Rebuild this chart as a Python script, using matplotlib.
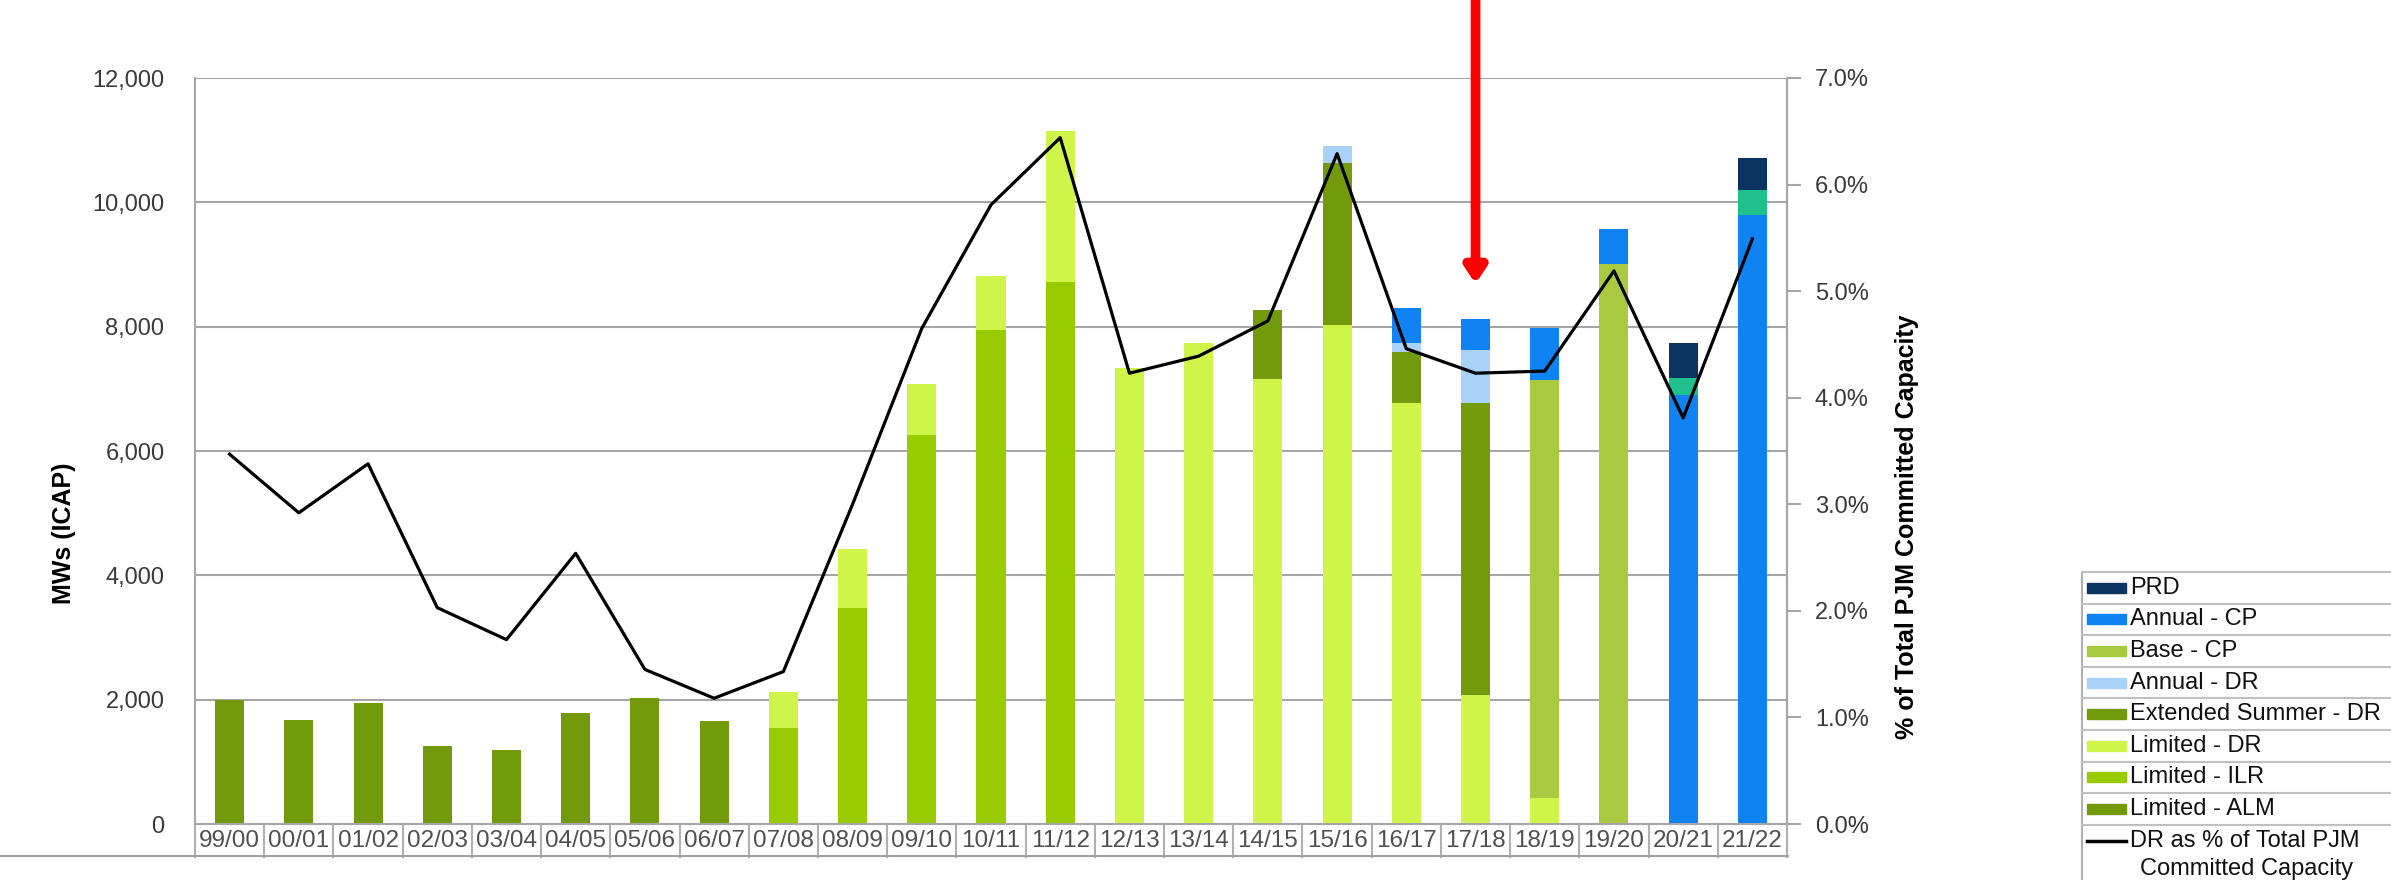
import numpy as np
import matplotlib.pyplot as plt
from matplotlib.patches import Rectangle
from matplotlib.lines import Line2D
import matplotlib.transforms as mtransforms

W, H = 2391, 880

years = ["99/00", "00/01", "01/02", "02/03", "03/04", "04/05", "05/06", "06/07",
         "07/08", "08/09", "09/10", "10/11", "11/12", "12/13", "13/14", "14/15",
         "15/16", "16/17", "17/18", "18/19", "19/20", "20/21", "21/22"]

# stacked MW segments, bottom to top
limited_alm = [2000, 1680, 1940, 1260, 1190, 1780, 2020, 1650, 0, 0, 0, 0,
               0, 0, 0, 0, 0, 0, 0, 0, 0, 0, 0]
limited_ilr = [0, 0, 0, 0, 0, 0, 0, 0, 1550, 3480, 6250, 7940,
               8720, 0, 0, 0, 0, 0, 0, 0, 0, 0, 0]
limited_dr = [0, 0, 0, 0, 0, 0, 0, 0, 570, 940, 820, 880,
              2430, 7330, 7740, 7160, 8030, 6780, 2080, 415, 0, 0, 0]
ext_summer_dr = [0, 0, 0, 0, 0, 0, 0, 0, 0, 0, 0, 0,
                 0, 0, 0, 1110, 2610, 810, 4700, 0, 0, 0, 0]
annual_dr = [0, 0, 0, 0, 0, 0, 0, 0, 0, 0, 0, 0,
             0, 0, 0, 0, 270, 150, 850, 0, 0, 0, 0]
base_cp = [0, 0, 0, 0, 0, 0, 0, 0, 0, 0, 0, 0,
           0, 0, 0, 0, 0, 0, 0, 6720, 9000, 0, 0]
annual_cp = [0, 0, 0, 0, 0, 0, 0, 0, 0, 0, 0, 0,
             0, 0, 0, 0, 0, 560, 490, 840, 570, 6900, 9790]
teal_seg = [0, 0, 0, 0, 0, 0, 0, 0, 0, 0, 0, 0,
            0, 0, 0, 0, 0, 0, 0, 0, 0, 270, 410]
prd = [0, 0, 0, 0, 0, 0, 0, 0, 0, 0, 0, 0,
       0, 0, 0, 0, 0, 0, 0, 0, 0, 560, 510]

# DR as % of total committed capacity
dr_pct = [3.47, 2.92, 3.38, 2.03, 1.73, 2.54, 1.45, 1.18, 1.43, 3.0, 4.65, 5.81,
          6.44, 4.23, 4.39, 4.72, 6.29, 4.46, 4.23, 4.25, 5.19, 3.81, 5.49]

series = [
    ("Limited - ALM", limited_alm, "#729a0c"),
    ("Limited - ILR", limited_ilr, "#99cc00"),
    ("Limited - DR", limited_dr, "#cff54a"),
    ("Extended Summer - DR", ext_summer_dr, "#729a0c"),
    ("Annual - DR", annual_dr, "#aad2f8"),
    ("Base - CP", base_cp, "#a9c940"),
    ("Annual - CP", annual_cp, "#1082f2"),
    (None, teal_seg, "#20c08c"),
    ("PRD", prd, "#0c3461"),
]

legend_order = ["PRD", "Annual - CP", "Base - CP", "Annual - DR",
                "Extended Summer - DR", "Limited - DR", "Limited - ILR", "Limited - ALM"]

narrow = ["Liberation Sans Narrow", "Liberation Sans", "DejaVu Sans"]
plt.rcParams["font.family"] = narrow

fig = plt.figure(figsize=(W / 100, H / 100), dpi=100)
ax = fig.add_axes([195 / W, 1 - 824 / H, (1787 - 195) / W, (824 - 78) / H])

x = np.arange(len(years))
bottom = np.zeros(len(years))
colors = {}
for name, vals, col in series:
    vals = np.array(vals, dtype=float)
    ax.bar(x, vals, 0.42, bottom=bottom, color=col, zorder=2)
    bottom += vals
    if name:
        colors[name] = col

ax.set_xlim(-0.5, len(years) - 0.5)
ax.set_ylim(0, 12000)
ax.set_yticks(np.arange(0, 12001, 2000))
ax.set_yticklabels([f"{v:,}" for v in range(0, 12001, 2000)])
ax.yaxis.grid(True, color="#a6a6a6", lw=1.5, zorder=0)
ax.set_axisbelow(True)
ax.tick_params(axis="y", length=0, pad=22, labelsize=17, labelcolor="#3a3a3a")
ax.set_xticks(x)
ax.set_xticklabels(years)
ax.tick_params(axis="x", length=0, pad=4, labelsize=17.5, labelcolor="#505050")
ax.spines["top"].set_visible(False)
for s in ["left", "right", "bottom"]:
    ax.spines[s].set_color("#a6a6a6")
    ax.spines[s].set_linewidth(1.5)

# category separator boxes under the axis
trans = mtransforms.blended_transform_factory(ax.transData, ax.transAxes)
drop = (857 - 824) / (824 - 78)
for b in np.arange(-0.5, len(years), 1.0):
    ax.plot([b, b], [0, -drop], color="#b0b0b0", lw=1.5, transform=trans, clip_on=False)

ax2 = ax.twinx()
ax2.plot(x, dr_pct, color="black", lw=2.3, zorder=5)
ax2.set_ylim(0, 7)
ax2.set_yticks(np.arange(0, 7.01, 1))
ax2.set_yticklabels([f"{v:.1f}%" for v in range(8)])
ax2.tick_params(axis="y", length=10, width=1.5, color="#a6a6a6", pad=10,
                labelsize=17, labelcolor="#3a3a3a")
for s in ["top", "left", "bottom"]:
    ax2.spines[s].set_visible(False)
ax2.spines["right"].set_color("#a6a6a6")
ax2.spines["right"].set_linewidth(1.5)

fig.text(64 / W, 1 - 533 / H, "MWs (ICAP)", rotation=90, ha="center", va="center",
         fontsize=18, fontweight="bold", family=["Liberation Sans", "DejaVu Sans"])
fig.text(1907 / W, 1 - 527 / H, "% of Total PJM Committed Capacity", rotation=90,
         ha="center", va="center", fontsize=18, fontweight="bold",
         family=["Liberation Sans", "DejaVu Sans"])

# bottom rule
fig.add_artist(Line2D([0, 1788 / W], [1 - 856 / H, 1 - 856 / H], color="#a0a0a0", lw=1.5,
                      transform=fig.transFigure))

# red arrow pointing at 17/18
ax.annotate("", xy=(18, 8690), xycoords="data", xytext=(18, 1.0),
            textcoords=("data", "figure fraction"),
            arrowprops=dict(arrowstyle="-|>,head_length=0.45,head_width=0.3", color="#ff0000",
                            lw=7, mutation_scale=20, shrinkA=0, shrinkB=0), zorder=10)

# legend panel
row_h = 31.6
top = 572
lx = 2082
ft = fig.transFigure
lfont = ["Liberation Sans", "DejaVu Sans"]
fig.add_artist(Line2D([lx / W, lx / W], [1 - top / H, 0], color="#b0b0b0", lw=1.5, transform=ft))
for i in range(len(legend_order) + 1):
    yy = top + i * row_h
    fig.add_artist(Line2D([lx / W, 1], [1 - yy / H, 1 - yy / H], color="#c0c0c0", lw=1.5,
                          transform=ft))
for i, name in enumerate(legend_order):
    yc = top + i * row_h + row_h / 2
    fig.add_artist(Rectangle((2087 / W, 1 - (yc + 5) / H), 39 / W, 10 / H,
                             color=colors[name], transform=ft))
    fig.text(2130 / W, 1 - yc / H, name, ha="left", va="center", fontsize=17,
             color="#111111", family=lfont)
yc = top + len(legend_order) * row_h + 16
fig.add_artist(Line2D([2087 / W, 2126 / W], [1 - yc / H, 1 - yc / H], color="black", lw=2.5,
                      transform=ft))
fig.text(2130 / W, 1 - yc / H, "DR as % of Total PJM", ha="left", va="center", fontsize=17,
         color="#111111", family=lfont)
fig.text(2140 / W, 1 - (yc + 28) / H, "Committed Capacity", ha="left", va="center",
         fontsize=17, color="#111111", family=lfont)

fig.savefig("out.png", dpi=100)
